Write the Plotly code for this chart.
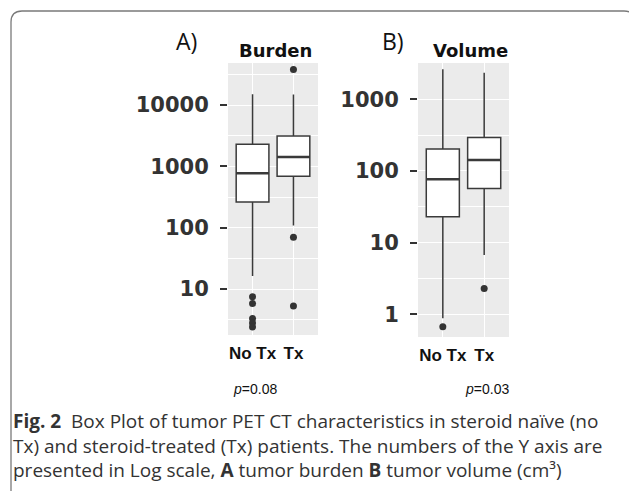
import plotly.graph_objects as go

W, H = 629, 491

groups = ["No Tx", "Tx"]
group_pos = [1, 2]

burden_q1 = [262, 687]
burden_median = [770, 1420]
burden_q3 = [2290, 3120]
burden_low = [16.3, 108]
burden_high = [15000, 14800]
burden_out_notx = [7.5, 5.8, 3.3, 2.8, 2.4]
burden_out_tx = [38000, 70, 5.3]

# Panel B: Volume
volume_q1 = [23, 57]
volume_median = [76.5, 142]
volume_q3 = [203, 292]
volume_low = [0.88, 6.7]
volume_high = [2620, 2350]
volume_out_notx = [0.67]
volume_out_tx = [2.3]

burden_ticks = [10, 100, 1000, 10000]
volume_ticks = [1, 10, 100, 1000]
burden_minor = [10**0.5, 10**1.5, 10**2.5, 10**3.5, 10**4.5]
volume_minor = [10**-0.5, 10**0.5, 10**1.5, 10**2.5, 10**3.5]

p_values = ["0.08", "0.03"]

caption_lines = [
    "<b>Fig. 2</b>  Box Plot of tumor PET CT characteristics in steroid naïve (no",
    "Tx) and steroid-treated (Tx) patients. The numbers of the Y axis are",
    "presented in Log scale, <b>A</b> tumor burden <b>B</b> tumor volume (cm³)",
]

BOXW = 0.8
LINE = "#3a3a3a"

fig = go.Figure()

def add_panel(xa, ya, q1, med, q3, lo, hi, out_a, out_b):
    for i in range(2):
        fig.add_trace(go.Box(
            x=[group_pos[i]], q1=[q1[i]], median=[med[i]], q3=[q3[i]],
            lowerfence=[lo[i]], upperfence=[hi[i]], width=BOXW,
            fillcolor="white", line=dict(color=LINE, width=1.5),
            whiskerwidth=0, boxpoints=False, showlegend=False,
            xaxis=xa, yaxis=ya, hoverinfo="skip"))
        fig.add_trace(go.Scatter(
            x=[group_pos[i] - BOXW / 2, group_pos[i] + BOXW / 2],
            y=[med[i], med[i]], mode="lines",
            line=dict(color=LINE, width=2.6), showlegend=False,
            xaxis=xa, yaxis=ya, hoverinfo="skip"))
    fig.add_trace(go.Scatter(
        x=[group_pos[0]] * len(out_a) + [group_pos[1]] * len(out_b),
        y=out_a + out_b, mode="markers",
        marker=dict(color="#333333", size=7), showlegend=False,
        xaxis=xa, yaxis=ya, hoverinfo="skip"))

add_panel("x", "y", burden_q1, burden_median, burden_q3, burden_low, burden_high,
          burden_out_notx, burden_out_tx)
add_panel("x2", "y2", volume_q1, volume_median, volume_q3, volume_low, volume_high,
          volume_out_notx, volume_out_tx)

def px_x(v):
    return v / W

def px_y(v):
    return 1 - v / H

tickfont = dict(family="DejaVu Sans", size=21, color="#333333", weight="bold")
xfont = dict(family="Liberation Sans", size=17, color="#111111", weight="bold")

def xaxis(l, r, anchor):
    return dict(domain=[px_x(l), px_x(r)], range=[0.4, 2.6], anchor=anchor,
                tickvals=group_pos, ticktext=groups,
                tickfont=xfont, showgrid=True, gridcolor="white", gridwidth=1.4,
                zeroline=False, showline=False, ticks="", ticklabelstandoff=6,
                fixedrange=True)

def yaxis(t, b, rng, ticks, minor, anchor):
    return dict(domain=[px_y(b), px_y(t)], type="log", range=rng, anchor=anchor,
                tickvals=ticks, ticktext=[str(t_) for t_ in ticks],
                tickfont=tickfont, ticks="outside", ticklen=7, tickwidth=2,
                tickcolor="#333333", ticklabelstandoff=7,
                showgrid=True, gridcolor="white", gridwidth=1.4,
                minor=dict(tickvals=minor, showgrid=True, gridcolor="white",
                           gridwidth=1.0, ticks=""),
                zeroline=False, showline=False, fixedrange=True)

fig.update_layout(
    width=W, height=H, margin=dict(l=0, r=0, t=0, b=0),
    paper_bgcolor="white", plot_bgcolor="#EBEBEB",
    xaxis=xaxis(228, 318, "y"),
    yaxis=yaxis(63, 335, [0.25, 4.685], burden_ticks, burden_minor, "x"),
    xaxis2=xaxis(418, 509, "y2"),
    yaxis2=yaxis(63, 337, [-0.316, 3.506], volume_ticks, volume_minor, "x2"),
)

def ann(text, x, y, size, family="Liberation Sans", xanchor="center", color="#111",
        align="center"):
    fig.add_annotation(text=text, x=px_x(x), y=px_y(y), xref="paper", yref="paper",
                       showarrow=False, xanchor=xanchor, yanchor="middle", align=align,
                       font=dict(family=family, size=size, color=color))

ann("A)", 186, 41, 23, family="Open Sans")
ann("B)", 393, 41, 23, family="Open Sans")
ann("<b>Burden</b>", 275, 50, 18, family="DejaVu Sans")
ann("<b>Volume</b>", 470, 50, 18, family="DejaVu Sans")
ann("<i>p</i>=0.%s" % p_values[0][2:], 255, 389, 14)
ann("<i>p</i>=0.%s" % p_values[1][2:], 487, 389, 14)

ann("<br>".join(caption_lines), 11, 445, 19, family="Open Sans", xanchor="left",
    color="#333", align="left")

# rounded frame
x0, y0, x1, y1, r = 11, 11, 635, 497, 11
def P(x, y):
    return "%f,%f" % (px_x(x), px_y(y))
path = ("M " + P(x0, y1) + " L " + P(x0, y0 + r) + " Q " + P(x0, y0) + " " + P(x0 + r, y0)
        + " L " + P(x1 - r, y0) + " Q " + P(x1, y0) + " " + P(x1, y0 + r)
        + " L " + P(x1, y1))
fig.add_shape(type="path", path=path, xref="paper", yref="paper",
              line=dict(color="#7a7a7a", width=1.3))

fig.write_html("out.html", config={"displayModeBar": False},
               post_script="document.body.style.margin='0';")
